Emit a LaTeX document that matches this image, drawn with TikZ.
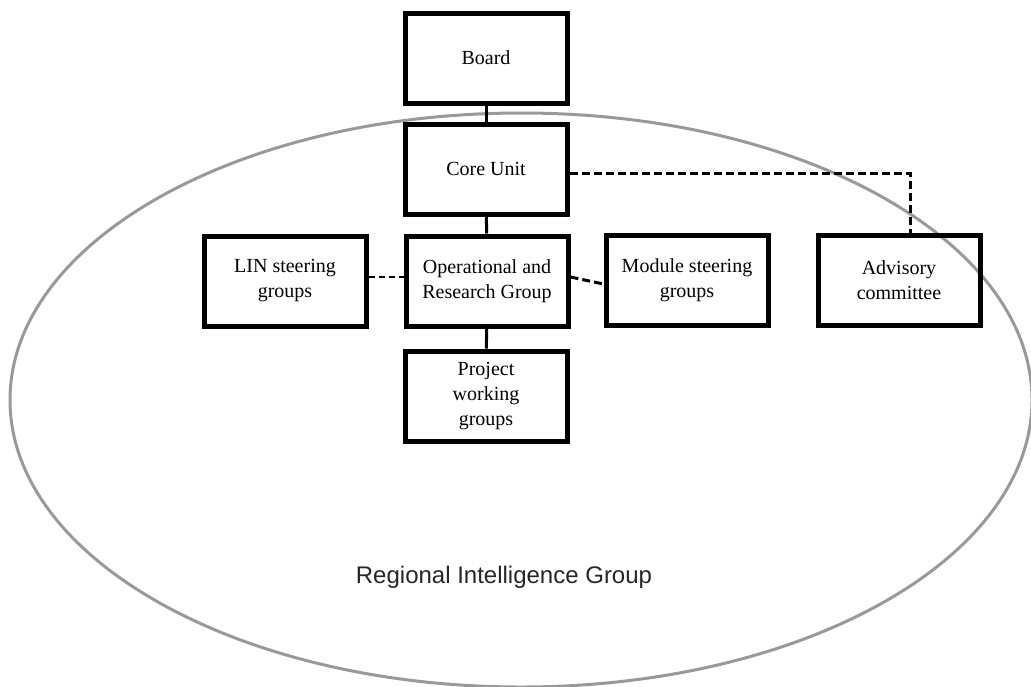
\documentclass[tikz,border=0pt]{standalone}
\usepackage{fontspec}
\setmainfont{Liberation Serif}
\newfontfamily\ringfont{Liberation Sans}
\usetikzlibrary{positioning}

\tikzset{
  unitbox/.style={draw, line width=2.5pt, minimum width=81pt, minimum height=45pt,
    inner sep=2pt, align=center, font=\fontsize{10}{12.5}\selectfont},
  link/.style={line width=1.5pt},
  dashlink/.style={line width=1.5pt, dash pattern=on 4pt off 2pt},
  thinlink/.style={line width=0.8pt, dash pattern=on 3pt off 2pt},
  ring/.style={draw=gray!80, line width=1.5pt}
}

\begin{document}
\begin{tikzpicture}[x=0.5pt, y=-0.5pt]
  \useasboundingbox (0,0) rectangle (1031,686);
  \draw[ring] (521,400) ellipse [x radius=511, y radius=287];
  \node[font=\ringfont\fontsize{12}{14}\selectfont, text=black!85] (rig) at (504,577) {Regional Intelligence Group};

  \node[unitbox] (board) at (486,58) {Board};
  \node[unitbox] (core) at (486,169) {Core Unit};
  \node[unitbox] (lin) at (285,281) {LIN steering\\groups};
  \node[unitbox] (ops) at (487,281) {Operational and\\Research Group};
  \node[unitbox] (mod) at (687,280) {Module steering\\groups};
  \node[unitbox] (adv) at (899,280) {Advisory\\committee};
  \node[unitbox] (proj) at (486,396) {Project\\working\\groups};

  \draw[link] (board) -- (core);
  \draw[link] (core) -- (ops);
  \draw[link] (ops) -- (proj);
  \draw[thinlink] ([yshift=2pt]lin.east) -- ([yshift=2pt]ops.east -| ops.west);
  \draw[dashlink] ([yshift=2pt]ops.east) -- ([yshift=-2pt]mod.west);
  \draw[dashlink] ([yshift=-2pt]core.east) -| ([xshift=5.5pt]adv.north);
\end{tikzpicture}
\end{document}
